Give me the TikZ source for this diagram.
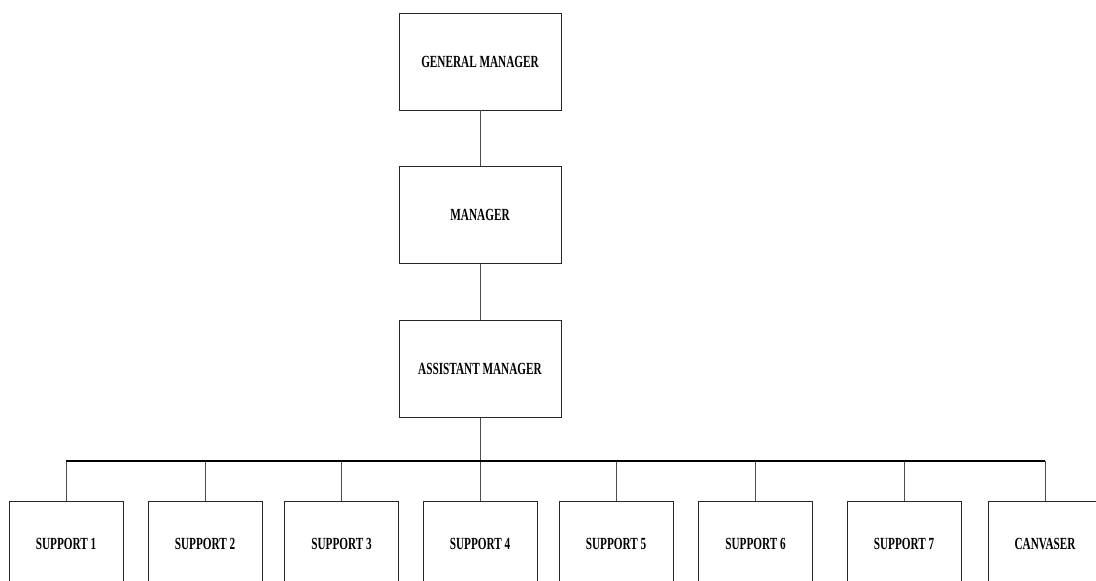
\documentclass[tikz,border=0pt]{standalone}
\usepackage{fontspec}
\newfontfamily\cond{Liberation Serif}[FakeStretch=0.66]
\begin{document}
\begin{tikzpicture}[x=1pt,y=-1pt,
  topbox/.style={draw=black!85,line width=0.9pt,fill=white,minimum width=162pt,minimum height=97pt,inner sep=0pt,font=\cond\bfseries\fontsize{17}{19}\selectfont},
  subbox/.style={draw=black!85,line width=0.9pt,fill=white,minimum width=114pt,minimum height=86pt,inner sep=0pt,font=\cond\bfseries\fontsize{17}{19}\selectfont},
  conn/.style={draw=black!70,line width=0.8pt},
  busline/.style={draw=black,line width=1.2pt}]
\useasboundingbox (0,0) rectangle (1096,581);
\clip (0,0) rectangle (1096,581);
\node[topbox] (gm) at (480,61.5) {GENERAL MANAGER};
\node[topbox] (mg) at (480,215) {MANAGER};
\node[topbox] (am) at (480,369) {ASSISTANT MANAGER};
\node[subbox] (s1) at (66,544) {SUPPORT 1};
\node[subbox] (s2) at (205,544) {SUPPORT 2};
\node[subbox] (s3) at (341.5,544) {SUPPORT 3};
\node[subbox] (s4) at (480,544) {SUPPORT 4};
\node[subbox] (s5) at (616,544) {SUPPORT 5};
\node[subbox] (s6) at (755.5,544) {SUPPORT 6};
\node[subbox] (s7) at (904,544) {SUPPORT 7};
\node[subbox] (cv) at (1045,544) {CANVASER};
\coordinate (bus) at (480,461);
\draw[conn] (gm.south) -- (mg.north);
\draw[conn] (mg.south) -- (am.north);
\draw[conn] (am.south) -- (bus);
\foreach \n in {s1,s2,s3,s4,s5,s6,s7,cv}{
  \draw[conn] (\n.north) -- (\n.north |- bus);
}
\draw[busline] (s1.north |- bus) -- (cv.north |- bus);
\end{tikzpicture}
\end{document}
